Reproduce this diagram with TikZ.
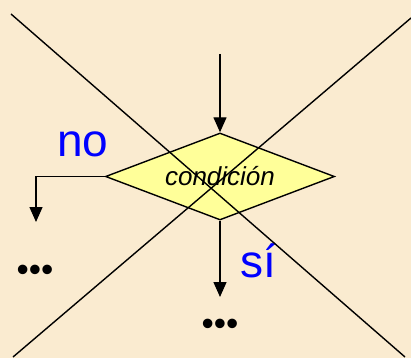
\documentclass[tikz,border=0pt]{standalone}
\usepackage{fontspec}
\setmainfont{Liberation Sans}
\usetikzlibrary{shapes.geometric,arrows.meta}
\definecolor{fondo}{HTML}{FAEBD0}
\definecolor{amarillo}{HTML}{FFFF99}

\begin{document}
\begin{tikzpicture}[x=1pt, y=-1pt, >={Triangle[width=13pt,length=15pt]}, line width=1.4pt,
  decision/.style={diamond, aspect=2.63, draw, fill=amarillo, minimum width=229pt,
    minimum height=87pt, inner sep=0pt, font=\fontsize{26}{30}\selectfont\itshape},
  etiqueta/.style={text=blue, font=\fontsize{46}{50}\selectfont, inner sep=0pt, anchor=base},
  puntos/.style={font=\fontsize{35}{40}\selectfont, inner sep=0pt, anchor=base}]

  \fill[fondo] (0,0) rectangle (411,358);
  \useasboundingbox (0,0) rectangle (411,358);

  \coordinate (entrada) at (220,54);
  \node[decision] (cond) at (220,176.5) {condición};
  \coordinate (codo) at (36,176.5);
  \coordinate (finNo) at (36,222);
  \coordinate (finSi) at (220,297);
  \node[puntos] (puntosNo) at (35,281.5) {•••};
  \node[puntos] (puntosSi) at (220,335.5) {•••};
  \node[etiqueta] (no) at (83,156) {no};
  \node[etiqueta] (si) at (258.5,277) {sí};

  \draw[->] (entrada) -- (cond.north);
  \draw[->] (cond.west) -- (codo) -- (finNo);
  \draw[->] (cond.south) -- (finSi);

  % la cruz
  \draw (11,14) -- (405,357);
  \draw (411,18) -- (13,357);

\end{tikzpicture}
\end{document}
